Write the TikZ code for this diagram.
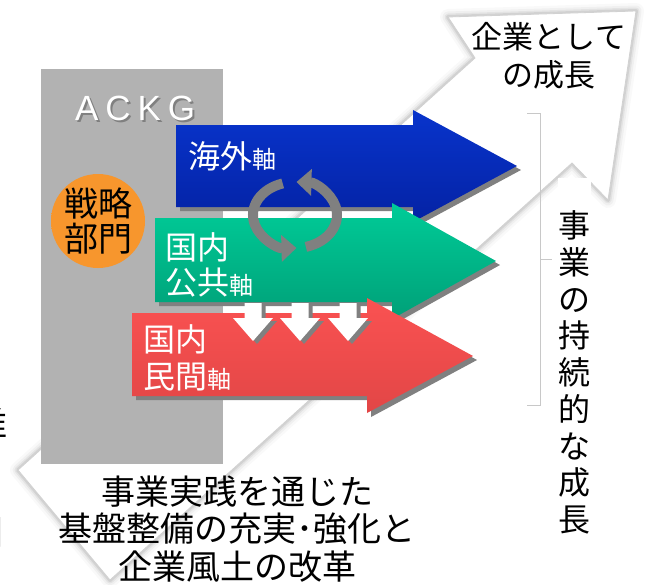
\documentclass[tikz,border=0pt]{standalone}
\usepackage{fontspec}
\setmainfont{Noto Sans CJK JP}
\newfontfamily\latinfont{Liberation Sans}
\usetikzlibrary{arrows.meta,calc}
\definecolor{boxgray}{RGB}{178,178,178}
\definecolor{shgray}{RGB}{128,128,128}
\definecolor{blueT}{RGB}{8,52,204}
\definecolor{blueB}{RGB}{4,34,164}
\definecolor{greenT}{RGB}{0,204,152}
\definecolor{greenB}{RGB}{0,160,120}
\definecolor{redT}{RGB}{250,82,82}
\definecolor{redB}{RGB}{226,70,70}
\definecolor{orangeA}{RGB}{247,150,45}
\definecolor{cycgray}{RGB}{128,128,128}
\definecolor{bracketgray}{RGB}{200,200,200}
\pgfdeclareradialshading{orangeglow}{\pgfpoint{0bp}{0bp}}{color(0bp)=(orangeA); color(30bp)=(orangeA); color(50bp)=(boxgray)}
\tikzset{
  axislabel/.style={text=white, anchor=base west, font=\fontsize{32}{36}\selectfont},
  blacktext/.style={text=black, align=center},
  cycarrow/.style={cycgray, line width=10pt, -{Triangle[width=26pt,length=15pt]}},
  bracketline/.style={bracketgray, line width=1pt},
}
\newcommand{\smallax}{\fontsize{24}{26}\selectfont}
\begin{document}
\begin{tikzpicture}[x=1pt,y=-1pt, every node/.style={inner sep=0pt, outer sep=0pt}]
\useasboundingbox (0,0) rectangle (647,584);
\fill[white] (0,0) rectangle (647,584);

% left-edge cut-off characters
\node[anchor=east, font=\fontsize{34}{36}\selectfont] (fragA) at (8,424) {推};
\node[anchor=east, font=\fontsize{34}{36}\selectfont] (fragB) at (4,532) {国};

% big white diagonal arrow
\coordinate (w1) at (18,470);
\coordinate (w2) at (475,58);
\coordinate (w3) at (448,17);
\coordinate (w4) at (636,11);
\coordinate (w5) at (608,200);
\coordinate (w6) at (572,163);
\coordinate (w7) at (110,580);
\foreach \w/\o in {16/0.025,11/0.035,7/0.05,4/0.07} {
  \draw[line width=\w pt, black, draw opacity=\o, line join=round] (w1)--(w2)--(w3)--(w4)--(w5)--(w6)--(w7)--cycle;
}
\filldraw[fill=white, draw=black!18, line width=0.8pt, line join=round] (w1)--(w2)--(w3)--(w4)--(w5)--(w6)--(w7)--cycle;

% gray box
\fill[boxgray] (41,69) rectangle (223,464);
\node[anchor=base west, text=shgray, font=\latinfont\fontsize{35}{38}\selectfont] (ackgsh) at (77,122) {A\hspace{7pt}C\hspace{7pt}K\hspace{7pt}G};
\node[anchor=base west, text=white, font=\latinfont\fontsize{35}{38}\selectfont] (ackg) at (75,120) {A\hspace{7pt}C\hspace{7pt}K\hspace{7pt}G};

% orange circle
\shade[shading=orangeglow] (98,221) circle[radius=47];
\node[blacktext, font=\fontsize{34}{35}\selectfont] (senryaku) at (98,221) {戦略\\部門};

% blue arrow
\fill[shgray, shift={(4,4)}] (176,125) -- (413,125) -- (413,110) -- (517,166) -- (413,222) -- (413,207) -- (176,207) -- cycle;
\shade[top color=blueT, bottom color=blueB] (176,125) -- (413,125) -- (413,110) -- (517,166) -- (413,222) -- (413,207) -- (176,207) -- cycle;
% green arrow
\fill[shgray, shift={(4,4)}] (155,218) -- (392,218) -- (392,203) -- (496,261) -- (392,319) -- (392,302) -- (155,302) -- cycle;
\shade[top color=greenT, bottom color=greenB] (155,218) -- (392,218) -- (392,203) -- (496,261) -- (392,319) -- (392,302) -- (155,302) -- cycle;
% red arrow
\fill[shgray, shift={(4,4)}] (132,313) -- (367,313) -- (367,298) -- (473,356) -- (367,413) -- (367,396) -- (132,396) -- cycle;
\shade[top color=redT, bottom color=redB] (132,313) -- (367,313) -- (367,298) -- (473,356) -- (367,413) -- (367,396) -- (132,396) -- cycle;

% cycle arrows
\coordinate (cyc) at (295,215);
\draw[cycarrow] ($(cyc)+(253:42 and 33)$) arc[start angle=253, end angle=88, x radius=42, y radius=33];
\draw[cycarrow] ($(cyc)+(75:42 and 33)$) arc[start angle=75, end angle=-88, x radius=42, y radius=33];

% white down arrows
\foreach \cx in {253,300,348} {
  \fill[shgray, shift={(4,3)}] (\cx-8.5,303) -- (\cx+8.5,303) -- (\cx+8.5,318) -- (\cx+20,318) -- (\cx,341) -- (\cx-20,318) -- (\cx-8.5,318) -- cycle;
  \fill[white] (\cx-8.5,303) -- (\cx+8.5,303) -- (\cx+8.5,318) -- (\cx+20,318) -- (\cx,341) -- (\cx-20,318) -- (\cx-8.5,318) -- cycle;
}

% axis labels
\node[axislabel] (kaigai) at (188,168) {海外{\smallax 軸}};
\node[axislabel] (kokunai1) at (165,259) {国内};
\node[axislabel] (kokyo) at (165,294) {公共{\smallax 軸}};
\node[axislabel] (kokunai2) at (143,351) {国内};
\node[axislabel] (minkan) at (143,388) {民間{\smallax 軸}};

% bracket
\draw[bracketline] (527,113) -- (540,113) -- (540,405) -- (527,405);
\draw[bracketline] (540,259) -- (552,259);

% vertical text
\fill[white] (558,178) rectangle (591,548);
\node[blacktext, anchor=north, font=\fontsize{32}{36.7}\selectfont] (jizoku) at (574,211) {事\\業\\の\\持\\続\\的\\な\\成\\長};

% top right text
\node[blacktext, font=\fontsize{31}{38}\selectfont] (seicho) at (549,56) {企業として\\の成長};

% bottom text
\node[blacktext, font=\fontsize{34}{37.5}\selectfont] (kiban) at (237,529) {事業実践を通じた\\基盤整備の充実･強化と\\企業風土の改革};
\end{tikzpicture}
\end{document}
